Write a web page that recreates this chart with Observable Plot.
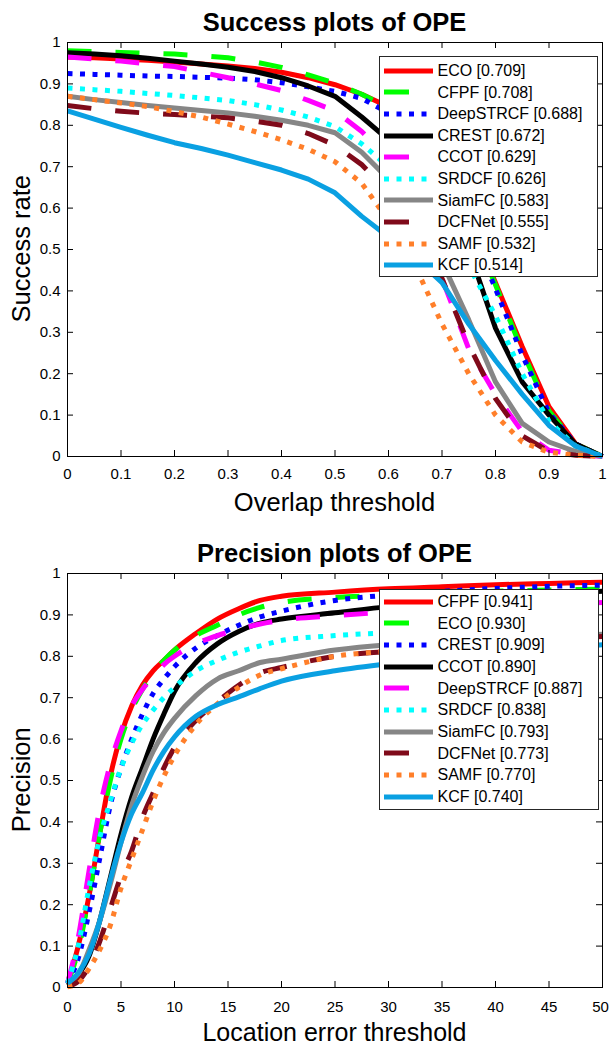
<!DOCTYPE html>
<html><head><meta charset="utf-8">
<script src="https://cdn.jsdelivr.net/npm/d3@7"></script>
<script src="https://cdn.jsdelivr.net/npm/@observablehq/plot@0.6"></script>
<style>
body{margin:0;background:#fff;font-family:"Liberation Sans",Arial,sans-serif;}
#wrap{position:relative;width:609px;height:1046px;overflow:hidden;background:#fff;}
.abs{position:absolute;}
.title{font-weight:bold;font-size:25.5px;line-height:1;text-align:center;white-space:nowrap;color:#000;}
.lab{font-size:25.5px;line-height:1;text-align:center;white-space:nowrap;color:#000;}
.legbox{background:#fff;border:1px solid #262626;box-sizing:border-box;}
.legtxt{font-size:16px;line-height:1;white-space:nowrap;color:#000;}
</style></head><body><div id="wrap"></div>
<script>
// ---------- Success plot data ----------
const succX = [0,0.05,0.1,0.15,0.2,0.25,0.3,0.35,0.4,0.45,0.5,0.55,0.6,0.65,0.7,0.75,0.8,0.85,0.9,0.95,1];
const succNames = ["ECO","CFPF","DeepSTRCF","CREST","CCOT","SRDCF","SiamFC","DCFNet","SAMF","KCF"];
const succScores = ["0.709","0.708","0.688","0.672","0.629","0.626","0.583","0.555","0.532","0.514"];
const succECO       = [0.965,0.963,0.960,0.957,0.953,0.948,0.943,0.937,0.928,0.915,0.898,0.875,0.845,0.790,0.700,0.570,0.420,0.265,0.120,0.030,0];
const succCFPF      = [0.980,0.978,0.976,0.974,0.972,0.968,0.963,0.953,0.940,0.922,0.902,0.875,0.842,0.785,0.700,0.565,0.415,0.255,0.110,0.030,0];
const succDeepSTRCF = [0.925,0.923,0.921,0.919,0.918,0.916,0.914,0.910,0.903,0.893,0.882,0.865,0.830,0.775,0.690,0.560,0.405,0.245,0.105,0.030,0];
const succCREST     = [0.975,0.972,0.968,0.962,0.955,0.948,0.940,0.930,0.915,0.895,0.870,0.820,0.765,0.700,0.620,0.500,0.310,0.180,0.100,0.030,0];
const succCCOT      = [0.965,0.960,0.955,0.948,0.942,0.928,0.915,0.900,0.884,0.860,0.835,0.785,0.720,0.600,0.430,0.260,0.150,0.060,0.015,0.005,0];
const succSRDCF     = [0.890,0.886,0.882,0.877,0.872,0.866,0.860,0.850,0.837,0.820,0.797,0.755,0.700,0.630,0.550,0.460,0.340,0.200,0.085,0.025,0];
const succSiamFC    = [0.870,0.862,0.855,0.848,0.842,0.836,0.830,0.822,0.812,0.800,0.782,0.735,0.670,0.570,0.470,0.330,0.180,0.080,0.035,0.012,0];
const succDCFNet    = [0.848,0.840,0.834,0.829,0.826,0.822,0.818,0.810,0.800,0.780,0.752,0.705,0.640,0.550,0.430,0.270,0.140,0.050,0.012,0.003,0];
const succSAMF      = [0.870,0.862,0.854,0.845,0.833,0.820,0.803,0.785,0.765,0.742,0.712,0.660,0.570,0.460,0.320,0.200,0.100,0.035,0.010,0.003,0];
const succKCF       = [0.835,0.815,0.795,0.776,0.758,0.744,0.728,0.710,0.692,0.670,0.637,0.580,0.530,0.480,0.420,0.320,0.232,0.150,0.075,0.025,0];
const succSeries = [succECO,succCFPF,succDeepSTRCF,succCREST,succCCOT,succSRDCF,succSiamFC,succDCFNet,succSAMF,succKCF];
const succXTicks = [0,0.1,0.2,0.3,0.4,0.5,0.6,0.7,0.8,0.9,1];
const succXTickLabels = ["0","0.1","0.2","0.3","0.4","0.5","0.6","0.7","0.8","0.9","1"];

// ---------- Precision plot data ----------
const precX = [0,1,2,3,4,5,6,7,8,9,10,12,14,16,18,20,25,30,35,40,45,50];
const precNames = ["CFPF","ECO","CREST","CCOT","DeepSTRCF","SRDCF","SiamFC","DCFNet","SAMF","KCF"];
const precScores = ["0.941","0.930","0.909","0.890","0.887","0.838","0.793","0.773","0.770","0.740"];
const precCFPF      = [0.010,0.100,0.220,0.370,0.510,0.610,0.680,0.730,0.765,0.790,0.815,0.855,0.890,0.915,0.935,0.945,0.955,0.963,0.968,0.973,0.976,0.979];
const precECO       = [0.010,0.090,0.220,0.370,0.500,0.600,0.670,0.720,0.760,0.790,0.815,0.850,0.875,0.900,0.918,0.930,0.942,0.948,0.953,0.957,0.960,0.962];
const precCREST     = [0.010,0.070,0.180,0.310,0.440,0.530,0.600,0.660,0.710,0.745,0.775,0.820,0.850,0.875,0.895,0.909,0.935,0.948,0.957,0.964,0.969,0.972];
const precCCOT      = [0.005,0.030,0.075,0.160,0.265,0.370,0.460,0.530,0.600,0.660,0.715,0.785,0.830,0.860,0.880,0.890,0.905,0.920,0.930,0.940,0.950,0.957];
const precDeepSTRCF = [0.010,0.120,0.280,0.430,0.540,0.620,0.680,0.720,0.750,0.780,0.800,0.830,0.850,0.865,0.878,0.887,0.898,0.907,0.915,0.920,0.925,0.930];
const precSRDCF     = [0.010,0.100,0.240,0.360,0.450,0.530,0.590,0.635,0.670,0.700,0.725,0.765,0.790,0.810,0.825,0.838,0.850,0.857,0.862,0.866,0.869,0.872];
const precSiamFC    = [0.005,0.030,0.090,0.160,0.250,0.350,0.440,0.510,0.570,0.615,0.650,0.705,0.745,0.765,0.785,0.793,0.815,0.828,0.835,0.842,0.848,0.853];
const precDCFNet    = [0.003,0.015,0.050,0.110,0.190,0.270,0.330,0.410,0.470,0.530,0.580,0.645,0.690,0.730,0.760,0.773,0.800,0.812,0.825,0.835,0.842,0.848];
const precSAMF      = [0.002,0.010,0.045,0.090,0.150,0.240,0.310,0.380,0.450,0.510,0.560,0.635,0.685,0.725,0.755,0.770,0.800,0.813,0.830,0.845,0.857,0.866];
const precKCF       = [0.010,0.035,0.080,0.160,0.260,0.350,0.420,0.470,0.525,0.570,0.605,0.655,0.683,0.702,0.722,0.740,0.765,0.782,0.795,0.808,0.818,0.828];
const precSeries = [precCFPF,precECO,precCREST,precCCOT,precDeepSTRCF,precSRDCF,precSiamFC,precDCFNet,precSAMF,precKCF];
const precXTicks = [0,5,10,15,20,25,30,35,40,45,50];
const precXTickLabels = ["0","5","10","15","20","25","30","35","40","45","50"];

const yTicks = [0,0.1,0.2,0.3,0.4,0.5,0.6,0.7,0.8,0.9,1];
const yTickLabels = ["0","0.1","0.2","0.3","0.4","0.5","0.6","0.7","0.8","0.9","1"];

// ---------- Styles by rank ----------
const rankColors = ["#ff0000","#00ff00","#0000ff","#000000","#ff00ff","#00ffff","#868686","#7f0a1a","#ff7f2a","#0aa0e2"];
const rankDash   = ["none","24,24","5,7.5","none","24,24","5,7.5","none","24,24","5,7.5","none"];

const FONT = "'Liberation Sans', Arial, sans-serif";
const wrap = document.getElementById("wrap");

function addDiv(cls, text, css) {
  const d = document.createElement("div");
  d.className = "abs " + cls;
  d.textContent = text;
  Object.assign(d.style, css);
  wrap.appendChild(d);
  return d;
}

function makePlot(cfg) {
  const rows = [];
  cfg.series.forEach((vals, r) => vals.forEach((v, i) => rows.push({x: cfg.xs[i], y: v, rank: r})));
  const xMax = cfg.xDomain[1];
  const tlY = 6 / 414, tlX = 6 / 535 * xMax;
  const xLab = new Map(cfg.xTicks.map((t, i) => [t, cfg.xTickLabels[i]]));
  const yLab = new Map(yTicks.map((t, i) => [t, yTickLabels[i]]));
  const lastTick = cfg.xTicks[cfg.xTicks.length - 1];
  const lines = cfg.series.map((_, r) => Plot.line(rows.filter(d => d.rank === r), {
    x: "x", y: "y", stroke: rankColors[r], strokeWidth: 5,
    strokeDasharray: rankDash[r] === "none" ? null : rankDash[r],
    strokeLinecap: "butt", strokeLinejoin: "round", curve: cfg.curve
  }));
  const svg = Plot.plot({
    width: 609, height: cfg.height,
    marginTop: 10, marginBottom: cfg.height - 10 - 414, marginLeft: 67, marginRight: 7,
    style: {fontFamily: FONT, fontSize: "15px", color: "#000", background: "transparent", overflow: "visible"},
    x: {domain: cfg.xDomain},
    y: {domain: [0, 1]},
    marks: [
      Plot.axisX({ticks: cfg.xTicks.slice(0, -1), tickFormat: d => xLab.get(d), tickSize: 0, tickPadding: cfg.xPad, fontSize: 15, label: null}),
      Plot.axisX({ticks: [lastTick], tickFormat: d => xLab.get(d), tickSize: 0, tickPadding: cfg.xPad, fontSize: 15, label: null, dx: cfg.lastDx}),
      Plot.axisY({ticks: yTicks, tickFormat: d => yLab.get(d), tickSize: 0, tickPadding: 7, fontSize: 15, label: null}),
      ...lines,
      Plot.ruleX(cfg.xTicks, {y1: 0, y2: tlY, stroke: "#000", strokeWidth: 1}),
      Plot.ruleX(cfg.xTicks, {y1: 1, y2: 1 - tlY, stroke: "#000", strokeWidth: 1}),
      Plot.ruleY(yTicks, {x1: 0, x2: tlX, stroke: "#000", strokeWidth: 1}),
      Plot.ruleY(yTicks, {x1: xMax, x2: xMax - tlX, stroke: "#000", strokeWidth: 1}),
      Plot.frame({stroke: "#000", strokeWidth: 1})
    ]
  });
  svg.style.position = "absolute";
  svg.style.left = "0px";
  svg.style.top = cfg.top + "px";
  wrap.appendChild(svg);
}

function makeLegend(names, scores, box, firstRow, step) {
  addDiv("legbox", "", {left: box.x + "px", top: box.y + "px", width: box.w + "px", height: box.h + "px"});
  names.forEach((n, r) => {
    const cy = firstRow + step * r;
    const ns = "http://www.w3.org/2000/svg";
    const s = document.createElementNS(ns, "svg");
    s.setAttribute("width", 50); s.setAttribute("height", 10);
    s.style.position = "absolute"; s.style.left = "384px"; s.style.top = (cy - 5) + "px";
    const l = document.createElementNS(ns, "line");
    l.setAttribute("x1", 0); l.setAttribute("x2", 49); l.setAttribute("y1", 5); l.setAttribute("y2", 5);
    l.setAttribute("stroke", rankColors[r]); l.setAttribute("stroke-width", 5);
    if (rankDash[r] !== "none") l.setAttribute("stroke-dasharray", rankDash[r] === "24,24" ? "25,30" : rankDash[r]);
    s.appendChild(l);
    wrap.appendChild(s);
    addDiv("legtxt", n + " [" + scores[r] + "]", {left: "437.5px", top: (cy - 7.8) + "px"});
  });
}

// ---------- Top: success plot ----------
addDiv("title", "Success plots of OPE", {left: "67px", width: "535px", top: "10px"});
makePlot({top: 32, height: 498, xs: succX, series: succSeries, xDomain: [0, 1], xTicks: succXTicks, xTickLabels: succXTickLabels, xPad: 12, curve: "linear", lastDx: 0});
addDiv("lab", "Overlap threshold", {left: "67px", width: "535px", top: "490px"});
addDiv("lab", "Success rate", {left: "-128px", width: "300px", top: (249 - 12.75) + "px", transform: "rotate(-90deg)"});
makeLegend(succNames, succScores, {x: 379, y: 56, w: 219, h: 221}, 70.7, 21.6);

// ---------- Bottom: precision plot ----------
addDiv("title", "Precision plots of OPE", {left: "67px", width: "535px", top: "541px"});
makePlot({top: 563, height: 483, xs: precX, series: precSeries, xDomain: [0, 50], xTicks: precXTicks, xTickLabels: precXTickLabels, xPad: 14, curve: "monotone-x", lastDx: -2});
addDiv("lab", "Location error threshold", {left: "67px", width: "535px", top: "1020px", fontSize: "25px", lineHeight: "25px"});
addDiv("lab", "Precision", {left: "-128px", width: "300px", top: (780 - 12.75) + "px", transform: "rotate(-90deg)"});
makeLegend(precNames, precScores, {x: 379, y: 589, w: 220, h: 221}, 601.8, 21.67);
</script></body></html>
